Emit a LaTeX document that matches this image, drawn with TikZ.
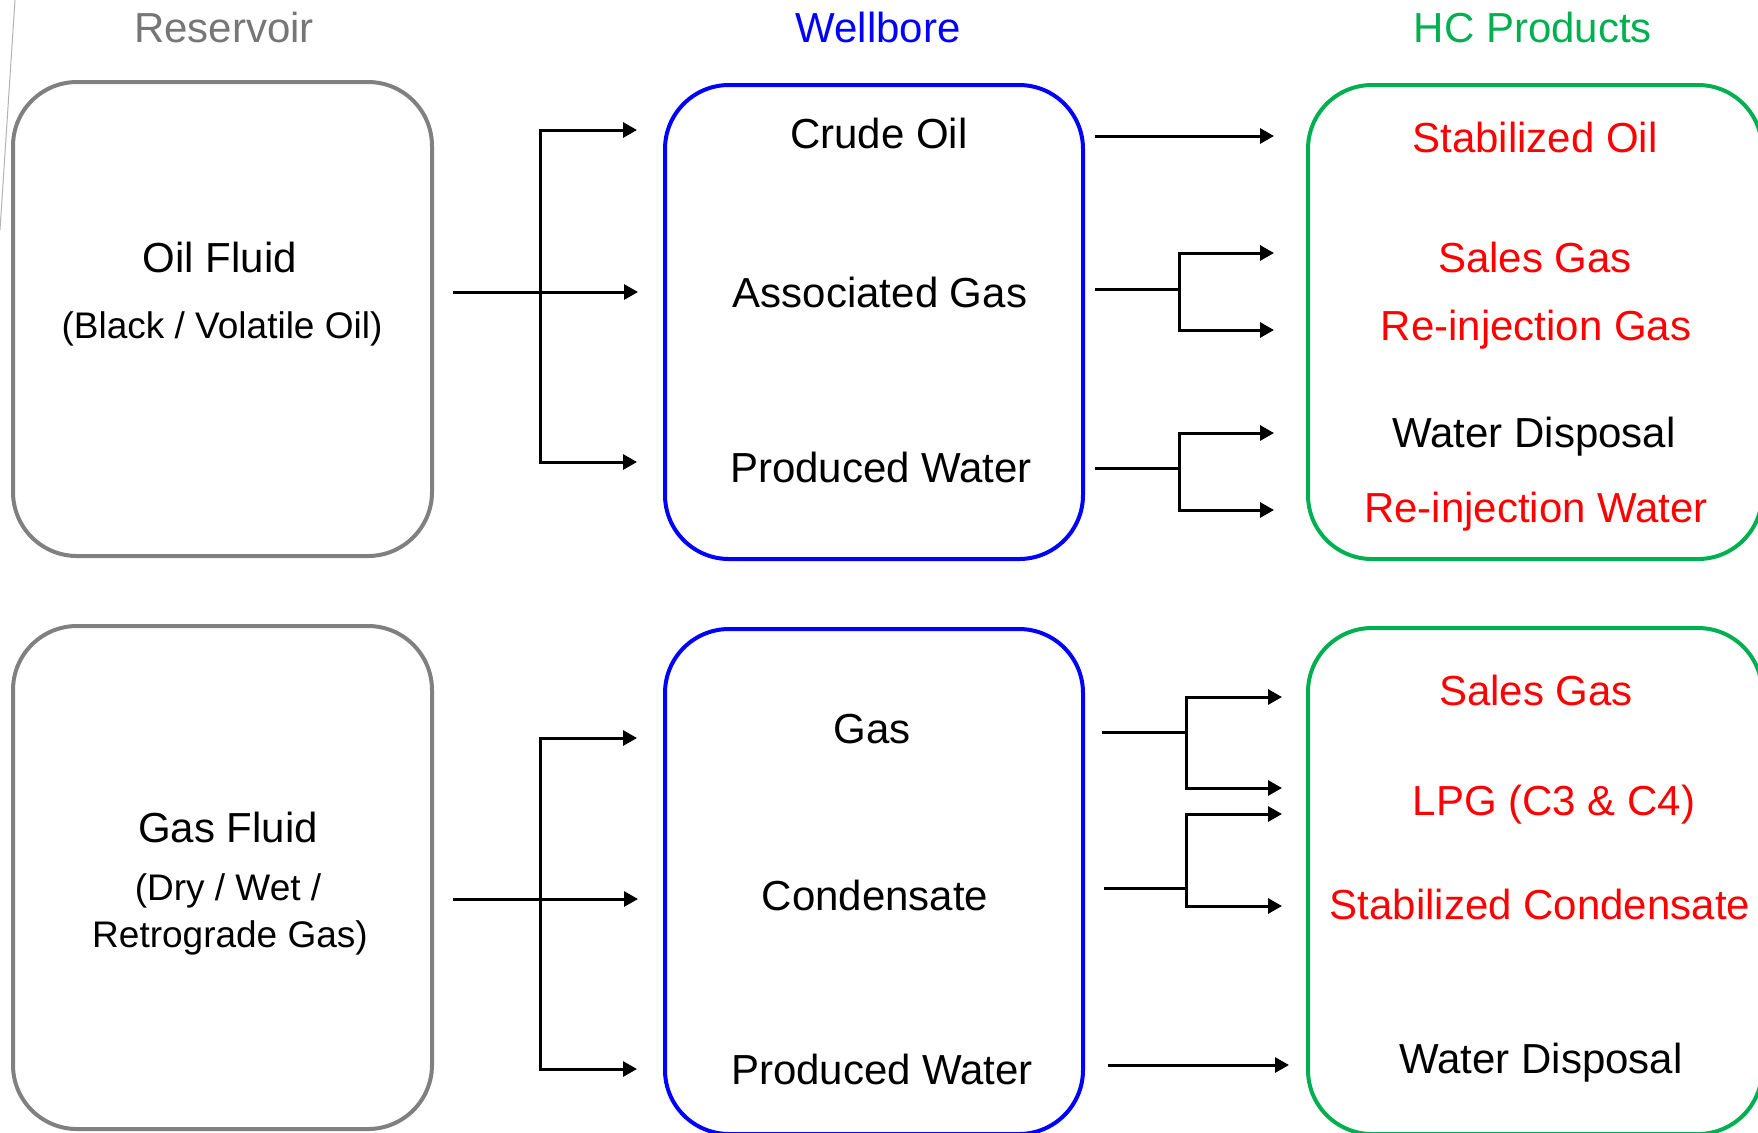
\documentclass[tikz,border=0pt]{standalone}
\usepackage{fontspec}
\setmainfont{Liberation Sans}
\usetikzlibrary{arrows.meta}
\definecolor{resgray}{RGB}{128,128,128}
\definecolor{titlegray}{RGB}{118,118,118}
\definecolor{wbblue}{RGB}{0,0,255}
\definecolor{hcgreen}{RGB}{0,176,80}
\definecolor{hcred}{RGB}{255,0,0}
\begin{document}
\begin{tikzpicture}[x=0.5pt,y=-0.5pt,
  box/.style={draw, line width=2pt, rounded corners=32pt, inner sep=0pt},
  lbl/.style={anchor=base, inner sep=0pt, font=\fontsize{21pt}{25pt}\selectfont},
  sublbl/.style={anchor=base, inner sep=0pt, font=\fontsize{18.5pt}{22pt}\selectfont},
  tipstyle/.style={line width=1.5pt, -{Triangle[length=7pt,width=7.5pt]}},
  twotip/.style={line width=1.5pt, {Triangle[length=7pt,width=7.5pt]}-{Triangle[length=7pt,width=7.5pt]}},
  plainline/.style={line width=1.5pt},
]
\useasboundingbox (0,0) rectangle (1758,1132);
\clip (0,0) rectangle (1758,1132);

% faint artifact line at top-left
\coordinate (art1) at (15,0);
\coordinate (art2) at (0,230);
\draw[line width=0.5pt, black!30] (art1) -- (art2);

% titles
\node[lbl, text=titlegray] (tres) at (224,42) {Reservoir};
\node[lbl, text=wbblue] (twb) at (878,42) {Wellbore};
\node[lbl, text=hcgreen] (thc) at (1533,42) {HC Products};

% boxes
\node[box, draw=resgray, minimum width=209.5pt, minimum height=237pt] (res1) at (222.5,319) {};
\node[box, draw=resgray, minimum width=209.5pt, minimum height=251.5pt] (res2) at (222.5,877.5) {};
\node[box, draw=wbblue, minimum width=209pt, minimum height=237pt] (wb1) at (874,322) {};
\node[box, draw=wbblue, minimum width=209pt, minimum height=252.5pt] (wb2) at (874,881.5) {};
\node[box, draw=hcgreen, minimum width=227pt, minimum height=237pt] (hc1) at (1535,322) {};
\node[box, draw=hcgreen, minimum width=227pt, minimum height=253pt] (hc2) at (1535,881) {};

% reservoir texts
\node[lbl] (oilf) at (220,272) {Oil Fluid};
\node[sublbl] (oilsub) at (222,338) {(Black / Volatile Oil)};
\node[lbl] (gasf) at (228,842) {Gas Fluid};
\node[sublbl] (gassub1) at (228,900) {(Dry / Wet /};
\node[sublbl] (gassub2) at (230,947) {Retrograde Gas)};

% wellbore texts
\node[lbl] (crude) at (879,148) {Crude Oil};
\node[lbl] (assoc) at (880,307) {Associated Gas};
\node[lbl] (pw1) at (881,482) {Produced Water};
\node[lbl] (gas) at (872,743) {Gas};
\node[lbl] (cond) at (875,910) {Condensate};
\node[lbl] (pw2) at (882,1084) {Produced Water};

% products texts
\node[lbl, text=hcred] (stoil) at (1535,152) {Stabilized Oil};
\node[lbl, text=hcred] (sg1) at (1535,272) {Sales Gas};
\node[lbl, text=hcred] (rig) at (1536,340) {Re-injection Gas};
\node[lbl] (wd1) at (1534,447) {Water Disposal};
\node[lbl, text=hcred] (riw) at (1536,522) {Re-injection Water};
\node[lbl, text=hcred] (sg2) at (1536,705) {Sales Gas};
\node[lbl, text=hcred] (lpg) at (1554,815) {LPG (C3 \& C4)};
\node[lbl, text=hcred] (stcond) at (1540,919) {Stabilized Condensate};
\node[lbl] (wd2) at (1541,1073) {Water Disposal};

% ---- top: reservoir -> wellbore
\coordinate (in1s) at (453,292);
\coordinate (in1e) at (638,292);
\coordinate (b1t) at (540,130);
\coordinate (b1b) at (540,462);
\coordinate (b1tt) at (637,130);
\coordinate (b1bt) at (637,462);
\draw[tipstyle] (in1s) -- (in1e);
\draw[twotip] (b1tt) -- (b1t) -- (b1b) -- (b1bt);

% ---- top: wellbore -> products
\coordinate (cos) at (1095,136);
\coordinate (coe) at (1274,136);
\draw[tipstyle] (cos) -- (coe);
\coordinate (ags) at (1095,289);
\coordinate (agj) at (1179,289);
\coordinate (agt) at (1179,253);
\coordinate (agb) at (1179,330);
\coordinate (agtt) at (1274,253);
\coordinate (agbt) at (1274,330);
\draw[plainline] (ags) -- (agj);
\draw[twotip] (agtt) -- (agt) -- (agb) -- (agbt);
\coordinate (pws) at (1095,468);
\coordinate (pwj) at (1179,468);
\coordinate (pwt) at (1179,433);
\coordinate (pwb) at (1179,510);
\coordinate (pwtt) at (1274,433);
\coordinate (pwbt) at (1274,510);
\draw[plainline] (pws) -- (pwj);
\draw[twotip] (pwtt) -- (pwt) -- (pwb) -- (pwbt);

% ---- bottom: reservoir -> wellbore
\coordinate (in2s) at (453,899);
\coordinate (in2e) at (638,899);
\coordinate (b2t) at (540,738);
\coordinate (b2b) at (540,1069);
\coordinate (b2tt) at (637,738);
\coordinate (b2bt) at (637,1069);
\draw[tipstyle] (in2s) -- (in2e);
\draw[twotip] (b2tt) -- (b2t) -- (b2b) -- (b2bt);

% ---- bottom: wellbore -> products
\coordinate (gss) at (1102,732);
\coordinate (gsj) at (1186,732);
\coordinate (gst) at (1186,697);
\coordinate (gsb) at (1186,788);
\coordinate (gstt) at (1282,697);
\coordinate (gsbt) at (1282,788);
\draw[plainline] (gss) -- (gsj);
\draw[twotip] (gstt) -- (gst) -- (gsb) -- (gsbt);
\coordinate (cds) at (1104,888);
\coordinate (cdj) at (1186,888);
\coordinate (cdt) at (1186,814);
\coordinate (cdb) at (1186,906);
\coordinate (cdtt) at (1282,814);
\coordinate (cdbt) at (1282,906);
\draw[plainline] (cds) -- (cdj);
\draw[twotip] (cdtt) -- (cdt) -- (cdb) -- (cdbt);
\coordinate (wds) at (1108,1065);
\coordinate (wde) at (1289,1065);
\draw[tipstyle] (wds) -- (wde);
\end{tikzpicture}
\end{document}
